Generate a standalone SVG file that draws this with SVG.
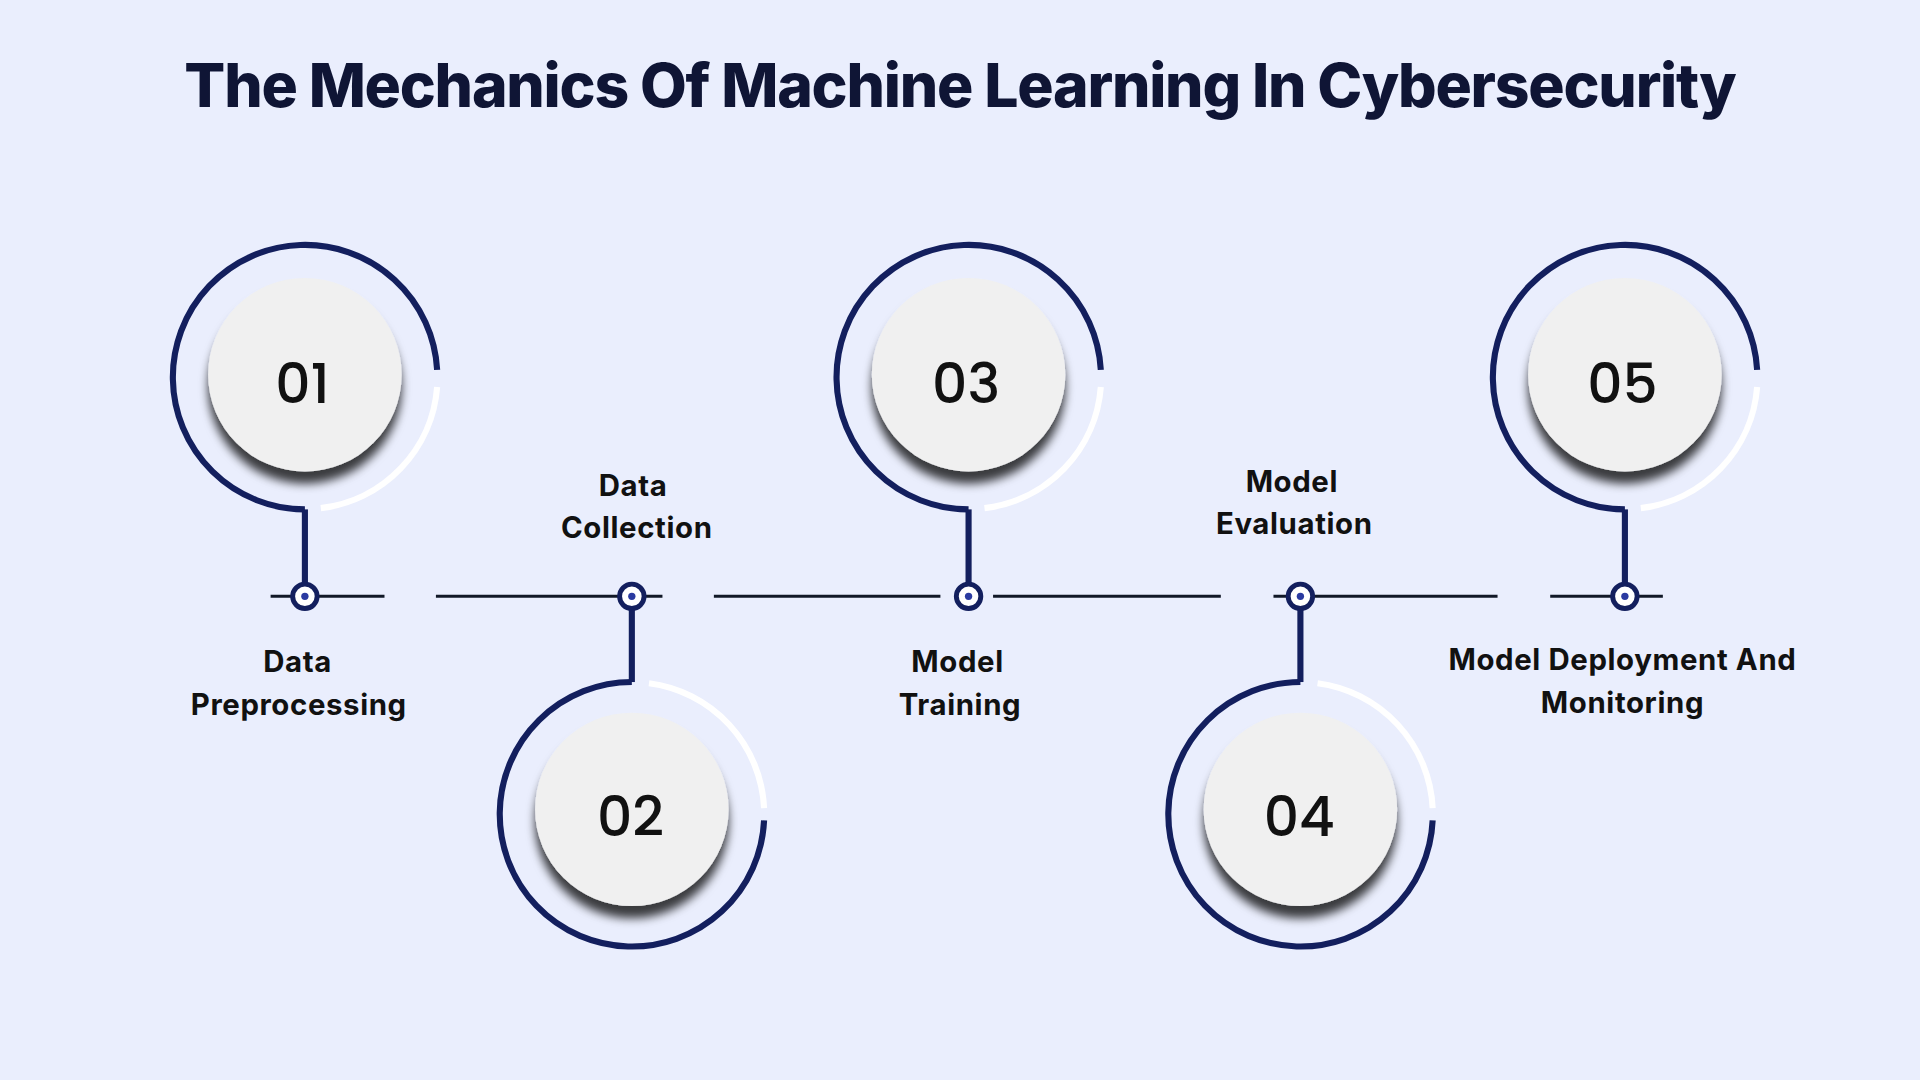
<svg xmlns="http://www.w3.org/2000/svg" width="1920" height="1080" viewBox="0 0 1920 1080">
<defs>
<style>
.dark{fill:none;stroke:#131f5e;stroke-width:5}
.white{fill:none;stroke:#ffffff;stroke-width:5}
.stem{stroke:#131f5e;stroke-width:5}
.line{stroke:#111827;stroke-width:2.5}
.dot{fill:#ffffff;stroke:#131f5e;stroke-width:4}
.dotc{fill:#2a3aa0}
.disc{fill:#f0f0f0;filter:url(#sh)}
.num{font-family:Poppins,"Open Sans","Liberation Sans",sans-serif;font-size:45px;font-weight:500;fill:#111;text-anchor:middle}
.lab{font-family:Inter,"Liberation Sans",sans-serif;font-size:24px;font-weight:700;fill:#111;text-anchor:middle;letter-spacing:0.5px}
</style>
<filter id="sh" x="-40%" y="-40%" width="180%" height="190%">
<feDropShadow dx="0" dy="10" stdDeviation="4" flood-color="#000" flood-opacity="0.75"/>
</filter>
</defs>
<rect width="1920" height="1080" fill="#eaeefd"/>
<g transform="scale(1.22449)">
<text x="784" y="87" text-anchor="middle" font-family="Inter,'Liberation Sans',sans-serif" font-weight="800" font-size="49.5" fill="#0f1535" letter-spacing="-1">The Mechanics Of Machine Learning In Cybersecurity</text>
<g id="connectors">
<line class="line" x1="221" y1="487" x2="314" y2="487"/>
<line class="line" x1="356" y1="487" x2="541" y2="487"/>
<line class="line" x1="583" y1="487" x2="768" y2="487"/>
<line class="line" x1="811" y1="487" x2="997" y2="487"/>
<line class="line" x1="1040" y1="487" x2="1223" y2="487"/>
<line class="line" x1="1266" y1="487" x2="1358" y2="487"/>
</g>
<g id="n1">
<path class="dark" d="M357,302 A108,108 0 1 0 249,416"/>
<path class="white" d="M357,316 A108,108 0 0 1 262,415"/>
<line class="stem" x1="249" y1="416" x2="249" y2="478"/>
<circle class="dot" cx="249" cy="487" r="10"/><circle class="dotc" cx="249" cy="487" r="3"/>
<circle class="disc" cx="249" cy="306" r="79"/>
<text class="num" x="247" y="329">01</text>
<text class="lab" x="243" y="549">Data</text><text class="lab" x="244" y="584">Preprocessing</text>
</g>
<g id="n2">
<path class="dark" d="M516,557 A108,108 0 1 0 624,670"/>
<path class="white" d="M530,558 A108,108 0 0 1 624,660"/>
<line class="stem" x1="516" y1="557" x2="516" y2="496"/>
<circle class="dot" cx="516" cy="487" r="10"/><circle class="dotc" cx="516" cy="487" r="3"/>
<circle class="disc" cx="516" cy="661" r="79"/>
<text class="num" x="515" y="683">02</text>
<text class="lab" x="517" y="405">Data</text><text class="lab" x="520" y="439">Collection</text>
</g>
<g id="n3">
<path class="dark" d="M899,302 A108,108 0 1 0 791,416"/>
<path class="white" d="M899,316 A108,108 0 0 1 804,415"/>
<line class="stem" x1="791" y1="416" x2="791" y2="478"/>
<circle class="dot" cx="791" cy="487" r="10"/><circle class="dotc" cx="791" cy="487" r="3"/>
<circle class="disc" cx="791" cy="306" r="79"/>
<text class="num" x="789" y="329">03</text>
<text class="lab" x="782" y="549">Model</text><text class="lab" x="784" y="584">Training</text>
</g>
<g id="n4">
<path class="dark" d="M1062,557 A108,108 0 1 0 1170,670"/>
<path class="white" d="M1076,558 A108,108 0 0 1 1170,660"/>
<line class="stem" x1="1062" y1="557" x2="1062" y2="496"/>
<circle class="dot" cx="1062" cy="487" r="10"/><circle class="dotc" cx="1062" cy="487" r="3"/>
<circle class="disc" cx="1062" cy="661" r="79"/>
<text class="num" x="1061" y="683">04</text>
<text class="lab" x="1055" y="402">Model</text><text class="lab" x="1057" y="436">Evaluation</text>
</g>
<g id="n5">
<path class="dark" d="M1435,302 A108,108 0 1 0 1327,416"/>
<path class="white" d="M1435,316 A108,108 0 0 1 1340,415"/>
<line class="stem" x1="1327" y1="416" x2="1327" y2="478"/>
<circle class="dot" cx="1327" cy="487" r="10"/><circle class="dotc" cx="1327" cy="487" r="3"/>
<circle class="disc" cx="1327" cy="306" r="79"/>
<text class="num" x="1325" y="329">05</text>
<text class="lab" x="1325" y="547">Model Deployment And</text><text class="lab" x="1325" y="582">Monitoring</text>
</g>
</g>
</svg>
